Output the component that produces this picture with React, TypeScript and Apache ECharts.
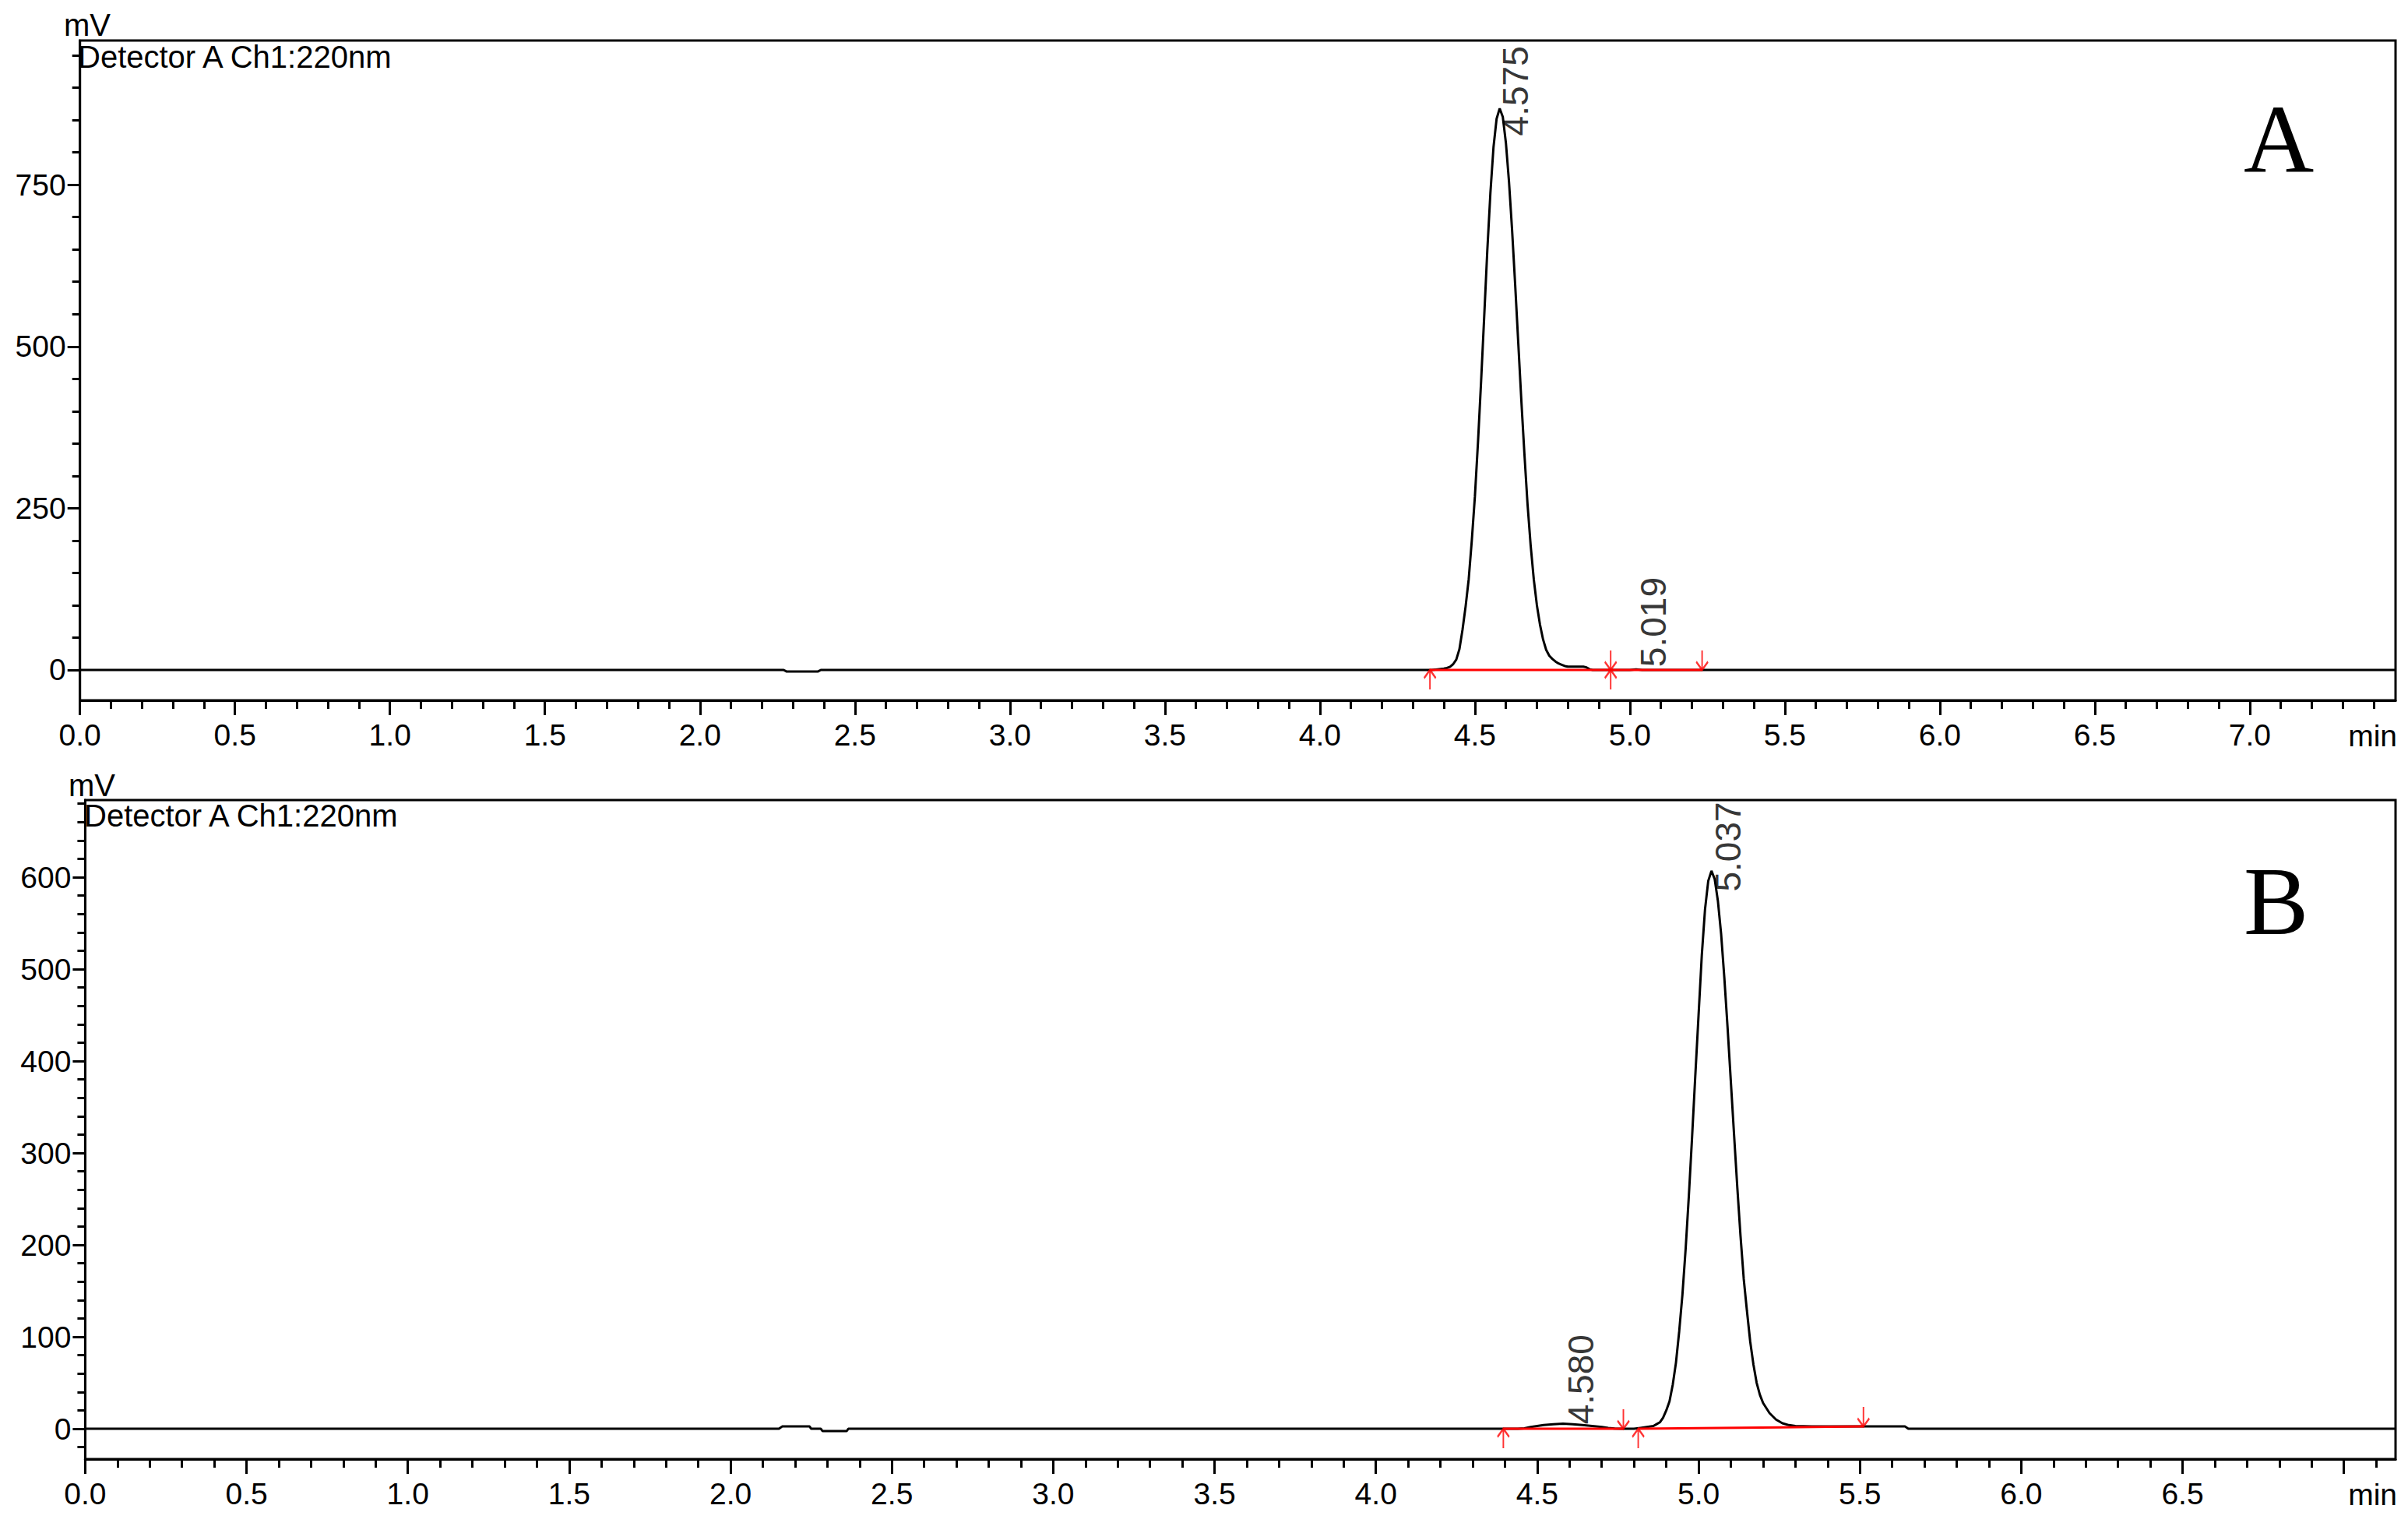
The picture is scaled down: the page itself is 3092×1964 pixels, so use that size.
import React, { useEffect, useRef } from "react";
import * as echarts from "echarts";

// ---------- Panel A data (retention time in min, signal in mV) ----------
const timeA = [
  0, 2.27, 2.28, 2.38, 2.39, 4.36, 4.38,
  4.4, 4.41, 4.42, 4.43, 4.44, 4.45, 4.46, 4.47, 4.48, 4.49,
  4.5, 4.51, 4.52, 4.53, 4.54, 4.55, 4.56, 4.57, 4.58, 4.59,
  4.6, 4.61, 4.62, 4.63, 4.64, 4.65, 4.66, 4.67, 4.68, 4.69,
  4.7, 4.71, 4.72, 4.73, 4.74, 4.75, 4.76, 4.77, 4.78, 4.79,
  4.8, 4.85, 4.86, 4.87, 4.88, 5.0, 5.02, 5.04, 7.47,
];
const signalA = [
  0, 0, -2.5, -2.5, 0, 0, 1,
  2, 3, 5, 9, 16, 32, 62, 98, 140, 200,
  268, 352, 446, 546, 648, 737, 808, 852, 868, 855,
  815, 755, 680, 595, 505, 415, 332, 255, 192, 140,
  100, 70, 47, 31, 22, 17, 13, 10, 8, 6,
  5, 5, 4, 1, 0, 0, 1, 0, 0,
];
const peakNamesA = ["4.575", "5.019"];
const peakTimesA = [4.575, 5.019];
const peakLabelLevelsA = [825, 4];
const baselineTimesA = [4.355, 4.938, 5.233];
const baselineLevelsA = [0, 0, 0];
const peakStartTimesA = [4.355, 4.938];
const peakStartLevelsA = [0, 0];
const peakEndTimesA = [4.938, 5.233];
const peakEndLevelsA = [0, 0];

// ---------- Panel B data ----------
const timeB = [
  0, 2.15, 2.16, 2.245, 2.25, 2.28, 2.285, 2.36, 2.365,
  4.44, 4.46, 4.48, 4.5, 4.52, 4.55, 4.58, 4.61, 4.64, 4.67, 4.7, 4.72, 4.74, 4.76,
  4.8, 4.82, 4.84, 4.86,
  4.87, 4.88, 4.89, 4.9, 4.91, 4.92, 4.93, 4.94, 4.95, 4.96,
  4.97, 4.98, 4.99, 5.0, 5.01, 5.02, 5.03, 5.04, 5.05, 5.06,
  5.07, 5.08, 5.09, 5.1, 5.11, 5.12, 5.13, 5.14, 5.15, 5.16,
  5.17, 5.18, 5.19, 5.2,
  5.22, 5.24, 5.26, 5.28, 5.3, 5.35, 5.64, 5.65, 7.16,
];
const signalB = [
  0, 0, 2.5, 2.5, 0, 0, -2.5, -2.5, 0,
  0, 0.5, 2, 3, 4, 5, 5.5, 5, 4, 3, 2, 1, 0.3, 0,
  0, 1, 2, 3,
  5, 7, 12, 20, 30, 48, 72, 106, 146, 196,
  254, 318, 385, 450, 515, 565, 596, 607, 598, 574,
  538, 490, 436, 378, 320, 263, 210, 163, 128, 95,
  70, 50, 37, 28,
  17, 10, 6, 4, 3, 2.5, 2.5, 0, 0,
];
const peakNamesB = ["4.580", "5.037"];
const peakTimesB = [4.58, 5.037];
const peakLabelLevelsB = [4.5, 584];
const baselineTimesB1 = [4.395, 4.767];
const baselineLevelsB1 = [0, 0];
const baselineTimesB2 = [4.813, 5.511];
const baselineLevelsB2 = [0, 2.5];
const peakStartTimesB = [4.395, 4.813];
const peakStartLevelsB = [0, 0];
const peakEndTimesB = [4.767, 5.511];
const peakEndLevelsB = [0, 2.5];

// ---------- Axes ----------
const xMaxA = 7.47;
const xMaxB = 7.16;
const yMinA = -47;
const yMaxA = 973;
const yMinB = -33;
const yMaxB = 684;
const xMajorTicks = [0, 0.5, 1, 1.5, 2, 2.5, 3, 3.5, 4, 4.5, 5, 5.5, 6, 6.5, 7];
const xLabelsA = [0, 0.5, 1, 1.5, 2, 2.5, 3, 3.5, 4, 4.5, 5, 5.5, 6, 6.5, 7];
const xLabelsB = [0, 0.5, 1, 1.5, 2, 2.5, 3, 3.5, 4, 4.5, 5, 5.5, 6, 6.5];
const yLabelsA = [0, 250, 500, 750];
const yLabelsB = [0, 100, 200, 300, 400, 500, 600];
const yMinorStepA = 50;
const yMinorStepB = 20;

const FONT = "Liberation Sans";

function stepValues(from: number, to: number, step: number): number[] {
  const out: number[] = [];
  const n = Math.round((to - from) / step);
  for (let i = 0; i <= n; i++) out.push(Math.round((from + i * step) * 1000) / 1000);
  return out;
}

function pairs(xs: number[], ys: number[]) {
  return xs.map((x, i) => [x, ys[i]]);
}

function makeXAxes(gridIndex: number, max: number, labels: number[]) {
  const minor = stepValues(0.1, Math.floor(max * 10) / 10, 0.1);
  return [
    {
      gridIndex, type: "value", min: 0, max, position: "bottom",
      axisLine: { show: true, onZero: false, lineStyle: { color: "#000", width: 3 } },
      axisTick: { show: true, customValues: xMajorTicks.filter((v) => v <= max), length: 19, lineStyle: { color: "#000", width: 3 } },
      axisLabel: {
        show: true, customValues: labels, formatter: (v: number) => v.toFixed(1),
        margin: 25, fontSize: 39, fontFamily: FONT, color: "#000",
      },
      splitLine: { show: false },
    },
    {
      gridIndex, type: "value", min: 0, max, position: "bottom",
      axisLine: { show: false, onZero: false },
      axisTick: { show: true, customValues: minor, length: 11, lineStyle: { color: "#000", width: 3 } },
      axisLabel: { show: false },
      splitLine: { show: false },
    },
  ];
}

function makeYAxes(gridIndex: number, min: number, max: number, labels: number[], step: number) {
  const minor = stepValues(Math.ceil(min / step) * step, Math.floor(max / step) * step, step).filter((v) => v > min && v < max);
  return [
    {
      gridIndex, type: "value", min, max, position: "left",
      axisLine: { show: true, onZero: false, lineStyle: { color: "#000", width: 3 } },
      axisTick: { show: true, customValues: minor, length: 10, lineStyle: { color: "#000", width: 3 } },
      axisLabel: {
        show: true, customValues: labels, margin: 18, fontSize: 39, fontFamily: FONT, color: "#000",
      },
      splitLine: { show: false },
    },
    {
      gridIndex, type: "value", min, max, position: "left",
      axisLine: { show: false, onZero: false },
      axisTick: { show: true, customValues: labels, length: 16, lineStyle: { color: "#000", width: 3 } },
      axisLabel: { show: false },
      splitLine: { show: false },
    },
  ];
}

const UP_ARROW = "path://M7 0 L7 24 M0 10 L7 0 L14 10";
const DOWN_ARROW = "path://M7 0 L7 24 M0 14 L7 24 L14 14";

function panelSeries(
  xi: number, yi: number,
  trace: number[][], baselines: number[][][],
  starts: number[][], ends: number[][],
  names: string[], labelPoints: number[][],
) {
  const out: any[] = [
    {
      type: "line", xAxisIndex: xi, yAxisIndex: yi, data: trace, showSymbol: false, symbol: "none",
      lineStyle: { color: "#000", width: 3 }, silent: true, z: 2,
    },
  ];
  baselines.forEach((b) => {
    out.push({
      type: "line", xAxisIndex: xi, yAxisIndex: yi, data: b, showSymbol: false, symbol: "none",
      lineStyle: { color: "#ff0000", width: 3 }, silent: true, z: 3,
    });
  });
  out.push({
    type: "scatter", xAxisIndex: xi, yAxisIndex: yi, data: starts, symbol: UP_ARROW,
    symbolSize: [15, 25], symbolOffset: [0, 12.5], silent: true, z: 4,
    itemStyle: { color: "rgba(0,0,0,0)", borderColor: "#ff0000", borderWidth: 2.5 },
  });
  out.push({
    type: "scatter", xAxisIndex: xi, yAxisIndex: yi, data: ends, symbol: DOWN_ARROW,
    symbolSize: [15, 25], symbolOffset: [0, -12.5], silent: true, z: 4,
    itemStyle: { color: "rgba(0,0,0,0)", borderColor: "#ff0000", borderWidth: 2.5 },
  });
  out.push({
    type: "scatter", xAxisIndex: xi, yAxisIndex: yi, silent: true, z: 5,
    data: labelPoints.map((p, i) => ({ value: p, name: names[i] })),
    symbolSize: 1, itemStyle: { color: "rgba(0,0,0,0)" },
    label: {
      show: true, formatter: "{b}", position: [0, 0], rotate: 90, align: "left", verticalAlign: "top",
      fontSize: 46, fontFamily: FONT, color: "#000",
    },
  });
  return out;
}

function txt(text: string, x: number, y: number, size: number, family: string, align: string) {
  return {
    type: "text", x, y, silent: true,
    style: {
      text, fontSize: size, fontFamily: family, fill: "#000",
      align, verticalAlign: "middle", textAlign: align, textVerticalAlign: "middle",
    },
  };
}

export default function App() {
  const ref = useRef<HTMLDivElement>(null);
  useEffect(() => {
    if (!ref.current) return;
    const chart = echarts.init(ref.current, null, { renderer: "svg" });
    const option: any = {
      animation: false,
      backgroundColor: "#fff",
      grid: [
        { left: 102.7, top: 52, width: 2973.3, height: 847, show: true, borderColor: "#000", borderWidth: 3, backgroundColor: "transparent" },
        { left: 109.4, top: 1027, width: 2966.6, height: 846, show: true, borderColor: "#000", borderWidth: 3, backgroundColor: "transparent" },
      ],
      xAxis: [...makeXAxes(0, xMaxA, xLabelsA), ...makeXAxes(1, xMaxB, xLabelsB)],
      yAxis: [...makeYAxes(0, yMinA, yMaxA, yLabelsA, yMinorStepA), ...makeYAxes(1, yMinB, yMaxB, yLabelsB, yMinorStepB)],
      series: [
        ...panelSeries(
          0, 0, pairs(timeA, signalA), [pairs(baselineTimesA, baselineLevelsA)],
          pairs(peakStartTimesA, peakStartLevelsA), pairs(peakEndTimesA, peakEndLevelsA),
          peakNamesA, pairs(peakTimesA, peakLabelLevelsA),
        ),
        ...panelSeries(
          2, 2, pairs(timeB, signalB), [pairs(baselineTimesB1, baselineLevelsB1), pairs(baselineTimesB2, baselineLevelsB2)],
          pairs(peakStartTimesB, peakStartLevelsB), pairs(peakEndTimesB, peakEndLevelsB),
          peakNamesB, pairs(peakTimesB, peakLabelLevelsB),
        ),
      ],
      graphic: [
        txt("mV", 82, 32, 40, FONT, "left"),
        txt("Detector A Ch1:220nm", 100, 72.5, 40, FONT, "left"),
        txt("min", 3078, 944, 39, FONT, "right"),
        txt("A", 2881, 178.5, 125, "Liberation Serif", "left"),
        txt("mV", 88, 1007.5, 40, FONT, "left"),
        txt("Detector A Ch1:220nm", 108, 1047, 40, FONT, "left"),
        txt("min", 3078, 1918, 39, FONT, "right"),
        txt("B", 2881, 1156.5, 125, "Liberation Serif", "left"),
      ],
    };
    chart.setOption(option);
    return () => chart.dispose();
  }, []);
  return (
    <div
      ref={ref}
      style={{ position: "absolute", left: 0, top: 0, width: 3092, height: 1964, background: "#fff" }}
    />
  );
}
